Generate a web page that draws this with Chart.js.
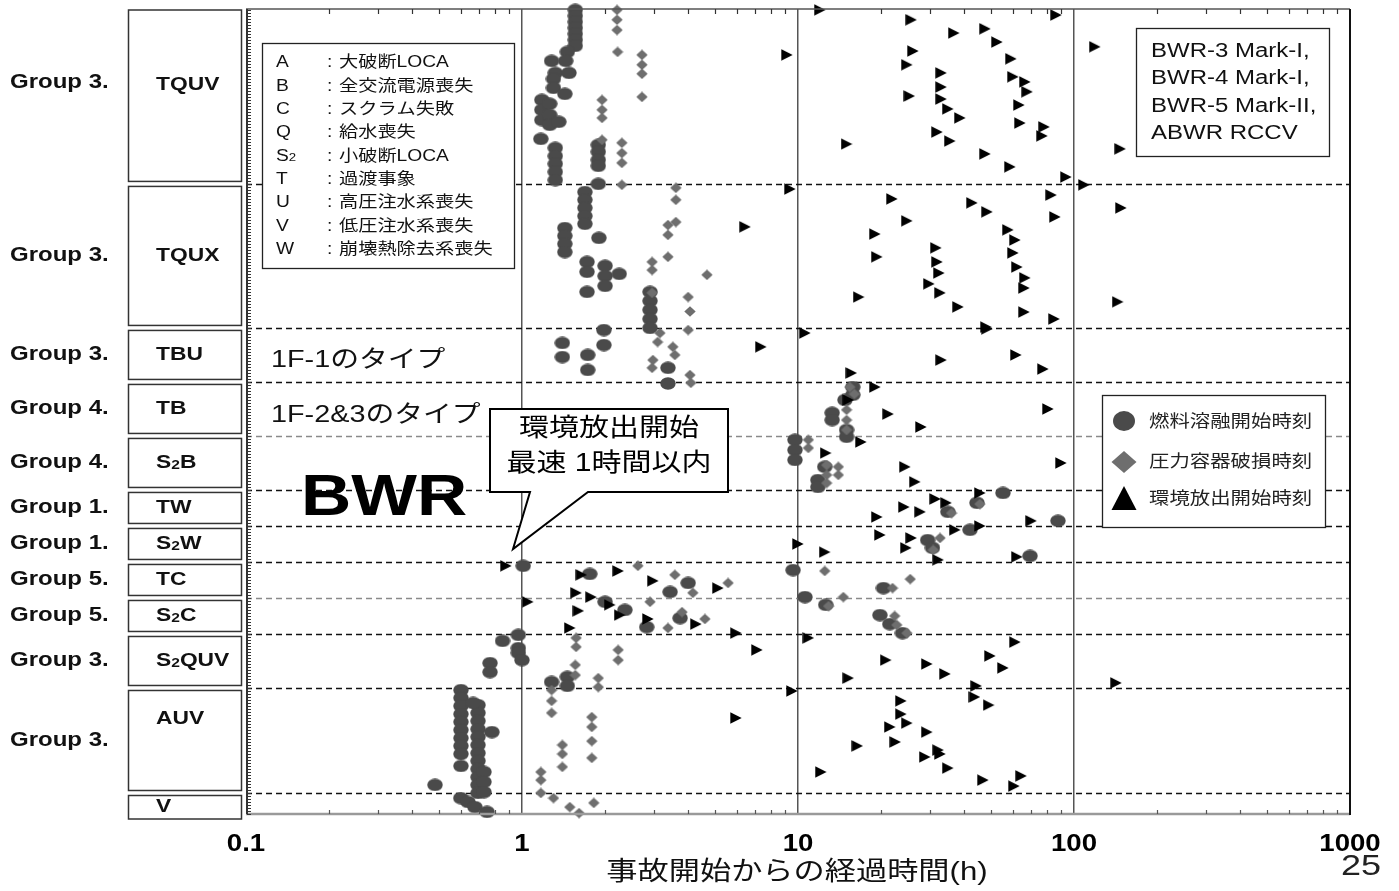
<!DOCTYPE html>
<html lang="ja">
<head>
<meta charset="UTF-8">
<title>BWR 事故進展時間</title>
<script src="https://cdn.jsdelivr.net/npm/chart.js"></script>
<style>
  body { margin: 0; background: #fff; }
  canvas { display: block; }
</style>
</head>
<body>
<canvas id="chart" width="1399" height="891"></canvas>
<script>
// ---- data: [hours since accident start, case index (0 = bottom)] ----
const scenarioNames = ['TQUV', 'TQUX', 'TBU', 'TB', 'S2B', 'TW', 'S2W', 'TC', 'S2C', 'S2QUV', 'AUV', 'V'];
const groupNames = ['Group 3.', 'Group 3.', 'Group 3.', 'Group 4.', 'Group 4.', 'Group 1.', 'Group 1.',
                    'Group 5.', 'Group 5.', 'Group 3.', 'Group 3.', ''];
const scenarioBounds = [268.3, 210, 162, 144, 126, 108, 96, 84, 72, 60, 42, 7, -2.5];
const xTicks = [0.1, 1, 10, 100, 1000];
const xTickLabels = ['0.1', '1', '10', '100', '1000'];

const meltPoints = [
  // TQUV
  [1.56,268],[1.56,266],[1.56,264],[1.56,262],[1.56,260],[1.56,258],[1.56,256],[1.46,254],
  [1.28,251],[1.44,251],[1.32,247],[1.48,247],[1.30,245],[1.30,242],[1.43,240],
  [1.18,238],[1.18,234.7],[1.18,231.3],[1.26,236.7],[1.26,233],[1.26,229.7],[1.36,230.7],[1.17,225],
  [1.32,222],[1.32,219.3],[1.32,216.7],[1.32,214],[1.32,211.3],
  [1.89,223],[1.89,220.7],[1.89,218],[1.89,216],[1.89,210],
  // TQUX
  [1.69,207.3],[1.69,204.7],[1.69,202],[1.69,199.3],[1.69,196.7],
  [1.43,195.3],[1.43,192.7],[1.43,190],[1.43,187.3],[1.90,192],
  [1.72,184],[1.72,180.7],[2.0,182.7],[2.0,179.3],[2.0,176],[2.25,180],[1.72,174],
  [2.91,174],[2.91,171],[2.91,168],[2.91,165],[2.91,162],
  // TBU
  [1.40,157],[1.40,152.3],[1.73,153],[1.73,148],[1.98,161.3],[1.98,156.3],[3.38,148.7],[3.38,143.5],
  // TB, S2B
  [15.8,142.3],[15.8,139.7],[14.8,138],[13.3,133.7],[13.3,131.3],[15.0,128],[15.0,125.7],
  [9.75,124.7],[9.75,121.3],[9.75,118],[12.5,115.7],[11.8,111.3],[11.8,109],
  // TW, S2W
  [55.3,107],[44.5,103.7],[34.9,100.7],[87.5,97.7],[42.0,94.7],[29.5,91.3],[30.7,88.7],[69.3,86],
  // TC, S2C
  [1.01,82.7],[1.76,80],[2.0,70.7],[2.36,68],[3.44,74],[4.0,77],[3.74,65.3],[2.83,62.3],
  [9.6,81.3],[10.6,72.3],[12.6,69.7],[20.4,75.3],[19.8,66.3],[21.5,63.3],[23.9,60.3],
  // S2QUV
  [0.97,59.7],[0.85,57.7],[0.97,55.3],[0.97,53.7],[1.0,51.3],[0.766,50.3],[0.766,47.3],
  [1.28,44],[1.46,45.7],[1.46,42.7],
  // AUV, V
  [0.601,41.3],[0.601,38.7],[0.601,36],[0.601,33.3],[0.601,30.7],[0.601,28],[0.601,25.3],
  [0.601,22.7],[0.601,20],[0.601,16],
  [0.693,36.3],[0.693,33.7],[0.693,31],[0.693,28.3],[0.693,25.7],[0.693,23],[0.693,20.3],
  [0.693,17.7],[0.693,15],[0.693,12.3],[0.693,9.7],[0.693,7],
  [0.728,14],[0.728,10.7],[0.728,7.3],[0.665,37],[0.778,27.3],[0.484,9.7],
  [0.60,5.3],[0.637,4],[0.675,2.3],[0.747,0.7]
];

const vesselPoints = [
  // TQUV
  [2.21,268],[2.21,264.7],[2.21,261.3],[2.22,254],[2.72,253],[2.72,249.7],[2.72,246.7],[2.72,239],
  [1.95,238],[1.95,234.7],[1.95,232],[1.95,224.7],[2.30,223.7],[2.30,220.3],[2.30,217],[2.30,209.7],
  // TQUX
  [3.61,208.7],[3.61,204.7],[3.61,197.3],[3.38,196.3],[3.38,193],[3.38,185.7],[2.96,184],[2.96,181.3],
  [4.68,179.7],[4.0,172.3],[2.96,173.7],[4.06,167.5],
  // TBU
  [3.16,160.3],[3.10,157.3],[3.52,155.7],[3.58,153],[2.98,151.3],[2.96,148.7],[4.0,161.3],[4.06,146.3],[4.09,143.7],
  // TB, S2B
  [15.4,142.3],[16.0,140],[15.0,134.7],[15.0,131.3],[15.0,128],[10.9,124.7],[10.9,122],
  [12.7,116.3],[12.7,113],[12.7,110.3],[14.0,115.7],[14.0,113],
  // TW, S2W
  [32.7,92],[30.9,88],[45.6,103.3],[36.0,100.3],
  // TC, S2C
  [2.63,82.7],[3.58,79.7],[4.16,73.7],[5.58,77],[2.91,70.7],[3.80,67.3],[3.38,62],[4.60,65],
  [12.5,81],[25.5,78.3],[22.0,75.3],[14.6,72.3],[12.9,69.3],[22.4,66],[22.8,63],[24.8,60.3],
  // S2QUV
  [1.57,58.7],[1.57,55.7],[1.56,49.7],[1.56,46.3],[2.23,54.7],[2.23,51.3],[1.89,45.3],[1.89,42.3],
  // AUV, V
  [1.28,41.3],[1.28,37.7],[1.28,33.7],[1.79,32.3],[1.79,29],[1.79,24.3],[1.79,18.7],
  [1.40,23],[1.40,20],[1.40,15.7],[1.17,14],[1.17,11.3],[1.17,7],[1.30,5.3],[1.49,2.3],[1.61,0.3],[1.82,3.7]
];

const releasePoints = [
  // TQUV
  [12.0,268],[25.7,264.7],[36.7,260.3],[47.6,261.7],[52.6,257.3],[86.1,266.3],[9.12,253],[26.1,254.3],
  [24.8,249.7],[59.1,251.7],[33.0,247],[60.1,245.7],[66.4,244],[67.6,240.7],[33.0,242.3],[25.3,239.3],
  [33.0,238.3],[34.9,235],[38.6,232],[63.2,236.3],[63.7,230.3],[77.9,229],[76.6,226],[31.9,227.3],
  [35.5,224.3],[15.0,223.3],[47.6,220],[58.6,215.7],[93.5,212.3],[108.7,209.7],[119,255.7],[147,221.7],
  // TQUX
  [9.35,208.3],[21.9,205],[42.7,203.7],[48.4,200.7],[82.6,206.3],[85.3,199],[24.8,197.7],[19.0,193.3],
  [57.6,194.7],[61.1,191.3],[60.1,187],[31.6,188.7],[31.9,184],[32.4,180.3],[19.3,185.7],[62.1,182.3],
  [66.4,178.7],[65.9,175.3],[29.8,176.7],[32.7,173.7],[16.6,172.3],[38.0,169],[65.9,167.3],[84.7,165],
  [48.0,162.3],[148,202],[144,170.7],[6.43,195.7],
  // TBU
  [10.6,160.3],[7.34,155.7],[48.4,161.7],[33.0,151.3],[61.6,153],[77.2,148.3],[15.6,147],
  // TB
  [19.0,142.3],[15.2,138],[21.2,133.3],[27.9,129],[80.5,135],
  // S2B
  [16.9,124],[12.6,120.3],[24.4,115.7],[26.5,110.7],[89.7,117],
  // TW
  [31.4,105],[34.4,103.7],[45.6,107],[24.2,102.3],[27.7,100.7],[19.3,99],[69.9,97.7],[45.6,96],[37.0,94.7],
  // S2W
  [19.8,93],[25.7,92],[24.6,88.7],[10,90],[12.5,87.3],[32.2,84.7],[62.1,85.7],
  // TC, S2C
  [0.875,82.7],[1.05,70.7],[1.64,79.7],[2.23,81],[2.98,77.7],[1.57,73.7],[1.78,72.3],[2.08,69.7],
  [2.26,66.3],[1.60,67.7],[1.49,62],[2.86,65],[4.27,63.3],[5.13,75.3],
  // S2QUV
  [10.9,58.7],[7.10,54.7],[20.8,51.3],[29.3,50],[34.1,46.7],[15.2,45.3],[49.6,52.7],[55.3,48.7],
  [61.1,57.3],[44.2,42.7],[142,43.7],[5.96,60.3],
  // AUV
  [9.51,41],[43.6,39],[49.1,36.3],[23.6,37.7],[23.6,33.3],[24.8,30.3],[21.5,29],[29.3,27.3],[22.5,24],
  [16.4,22.7],[28.8,19],[32.2,21.3],[32.7,20],[34.9,15.3],[12.1,14],[46.8,11.3],[60.6,9.3],[64.3,12.7],[5.96,32]
];

const seriesLabels = ['燃料溶融開始時刻', '圧力容器破損時刻', '環境放出開始時刻'];
const abbrKeys = ['A', 'B', 'C', 'Q', 'S2', 'T', 'U', 'V', 'W'];
const abbrTexts = ['大破断LOCA', '全交流電源喪失', 'スクラム失敗', '給水喪失', '小破断LOCA',
                   '過渡事象', '高圧注水系喪失', '低圧注水系喪失', '崩壊熱除去系喪失'];
const plantTypes = ['BWR-3 Mark-I,', 'BWR-4 Mark-I,', 'BWR-5 Mark-II,', 'ABWR RCCV'];

// ---- style ----
const FONT = '"Liberation Sans", Arial, "Noto Sans CJK JP", sans-serif';
const SX = 1.2;            // the original slide is stretched horizontally
const MELT = '#4a4a4a';
const VESSEL = '#6e6e6e';
const RELEASE = '#000';

function marker(w, h, draw) {
  const c = document.createElement('canvas');
  c.width = w; c.height = h;
  draw(c.getContext('2d'), w, h);
  return c;
}
function ellipse(g, cx, cy, rx, ry, col) {
  g.fillStyle = col; g.beginPath(); g.ellipse(cx, cy, rx, ry, 0, 0, Math.PI * 2); g.fill();
}
function diamond(g, cx, cy, rx, ry, col) {
  g.fillStyle = col; g.beginPath();
  g.moveTo(cx, cy - ry); g.lineTo(cx + rx, cy); g.lineTo(cx, cy + ry); g.lineTo(cx - rx, cy);
  g.closePath(); g.fill();
}
const circleImg = marker(16, 13, (g, w, h) => ellipse(g, w / 2, h / 2, w / 2 - 0.3, h / 2 - 0.3, MELT));
const diamondImg = marker(12, 11, (g, w, h) => diamond(g, w / 2, h / 2, w / 2 - 0.3, h / 2 - 0.3, VESSEL));
const triangleImg = marker(12, 12, (g, w, h) => {
  g.fillStyle = RELEASE; g.beginPath();
  g.moveTo(0.3, 0.3); g.lineTo(w - 0.3, h / 2); g.lineTo(0.3, h - 0.3); g.closePath(); g.fill();
});

// text with horizontal stretch; "S2" gets a small 2 when sub is set
function drawText(ctx, s, x, y, size, o = {}) {
  const bold = o.bold ? 'bold ' : '';
  const big = bold + size + 'px ' + FONT;
  const small = bold + Math.round(size * 0.68) + 'px ' + FONT;
  const parts = o.sub ? s.split(/(?<=S)(2)/) : [s];
  ctx.save();
  ctx.fillStyle = o.color || '#000';
  ctx.textBaseline = o.base || 'middle';
  ctx.textAlign = 'left';
  const widths = parts.map((p, i) => { ctx.font = i % 2 ? small : big; return ctx.measureText(p).width; });
  const total = widths.reduce((a, b) => a + b, 0) * SX;
  let cx = o.align === 'center' ? x - total / 2 : o.align === 'right' ? x - total : x;
  parts.forEach((p, i) => {
    ctx.font = i % 2 ? small : big;
    ctx.save();
    ctx.translate(cx, y + (i % 2 ? size * 0.14 : 0));
    ctx.scale(SX, 1);
    ctx.fillText(p, 0, 0);
    ctx.restore();
    cx += widths[i] * SX;
  });
  ctx.restore();
}

function line(ctx, x1, y1, x2, y2, col, w) {
  ctx.strokeStyle = col; ctx.lineWidth = w;
  ctx.beginPath(); ctx.moveTo(x1, y1); ctx.lineTo(x2, y2); ctx.stroke();
}

const decor = {
  id: 'decor',
  beforeDatasetsDraw(chart) {
    const { ctx, chartArea: a, scales: { y } } = chart;
    ctx.save();
    ctx.setLineDash([6, 4]);
    scenarioBounds.slice(1, -1).forEach(b => {
      const py = Math.round(y.getPixelForValue(b)) + 0.5;
      const gray = (b === 126 || b === 72);
      line(ctx, a.left, py, a.right, py, gray ? '#8a8a8a' : '#111', 1.3);
    });
    ctx.restore();
  },
  afterDraw(chart) {
    const { ctx, chartArea: a, scales: { x, y } } = chart;
    ctx.save();

    // frame
    line(ctx, a.left, a.top, a.right, a.top, '#555', 1.5);
    line(ctx, a.left, a.bottom, a.right, a.bottom, '#9a9a9a', 2.5);
    line(ctx, a.left + 1, a.top, a.left + 1, a.bottom, '#333', 2);
    line(ctx, a.right, a.top, a.right, a.bottom + 1, '#111', 2);

    // minor ticks: left axis, one per case
    for (let v = 0; v <= 268; v++) {
      const py = Math.round(y.getPixelForValue(v)) + 0.5;
      line(ctx, a.left + 1, py, a.left + 5, py, '#333', 1);
    }
    // log minor ticks top and bottom
    for (let d = 0.1; d < 1000; d *= 10) {
      for (let k = 2; k <= 9; k++) {
        const px = Math.round(x.getPixelForValue(d * k)) + 0.5;
        line(ctx, px, a.top, px, a.top + 5, '#333', 1.2);
        line(ctx, px, a.bottom, px, a.bottom - 4, '#555', 1.2);
      }
    }

    // scenario boxes and group labels
    scenarioNames.forEach((name, i) => {
      const top = i === 0 ? a.top + 1 : y.getPixelForValue(scenarioBounds[i]) + 2.5;
      const bot = y.getPixelForValue(scenarioBounds[i + 1]) - 2.5;
      ctx.strokeStyle = '#333'; ctx.lineWidth = 1.5;
      ctx.strokeRect(128.5, top, 113, bot - top);
      const mid = (top + bot) / 2;
      const ly = name === 'AUV' ? top + 28 : (i === 0 ? mid - 11 : mid);
      drawText(ctx, name, 156, ly, 19, { bold: true, sub: true, color: '#111' });
      if (groupNames[i]) drawText(ctx, groupNames[i], 10, i === 0 ? mid - 13 : mid, 20, { bold: true, color: '#111' });
    });

    // x tick labels, title, page number
    xTicks.forEach((v, i) => {
      drawText(ctx, xTickLabels[i], x.getPixelForValue(v), 851, 23, { bold: true, align: 'center', base: 'alphabetic' });
    });
    drawText(ctx, '事故開始からの経過時間(h)', 797, 873, 26, { align: 'center', color: '#111' });
    drawText(ctx, '25', 1341, 875, 30, { base: 'alphabetic', color: '#222' });

    // abbreviation box
    ctx.fillStyle = '#fff'; ctx.fillRect(262, 43, 252, 225);
    ctx.strokeStyle = '#222'; ctx.lineWidth = 1.3; ctx.strokeRect(262.5, 43.5, 252, 225);
    abbrKeys.forEach((k, i) => {
      const ly = 63 + i * 23.3;
      drawText(ctx, k, 276, ly, 16, { sub: true, color: '#111' });
      drawText(ctx, ':', 327, ly, 16, { color: '#111' });
      drawText(ctx, abbrTexts[i], 339, ly, 16, { color: '#111' });
    });

    // plant type box
    ctx.fillStyle = '#fff'; ctx.fillRect(1136, 28, 193, 128);
    ctx.strokeRect(1136.5, 28.5, 193, 128);
    plantTypes.forEach((t, i) => drawText(ctx, t, 1151, 51 + i * 27.5, 20, { color: '#111' }));

    // annotations
    drawText(ctx, '1F-1のタイプ', 271, 360, 24, { color: '#111' });
    drawText(ctx, '1F-2&3のタイプ', 271, 415, 24, { color: '#111' });
    drawText(ctx, 'BWR', 301, 515, 58, { bold: true, base: 'alphabetic', color: '#000' });

    // callout
    ctx.beginPath();
    ctx.moveTo(490, 409); ctx.lineTo(728, 409); ctx.lineTo(728, 492); ctx.lineTo(588, 492);
    ctx.lineTo(513, 549); ctx.lineTo(530, 492); ctx.lineTo(490, 492); ctx.closePath();
    ctx.fillStyle = '#fff'; ctx.fill();
    ctx.strokeStyle = '#000'; ctx.lineWidth = 2; ctx.stroke();
    drawText(ctx, '環境放出開始', 609, 429, 25, { align: 'center' });
    drawText(ctx, '最速 1時間以内', 609, 464, 25, { align: 'center' });

    // legend
    ctx.fillStyle = '#fff'; ctx.fillRect(1102, 395, 223, 132);
    ctx.strokeStyle = '#222'; ctx.lineWidth = 1.3; ctx.strokeRect(1102.5, 395.5, 223, 132);
    ellipse(ctx, 1124, 421, 11, 10, MELT);
    diamond(ctx, 1124, 462, 12.5, 11, VESSEL);
    ctx.fillStyle = RELEASE; ctx.beginPath();
    ctx.moveTo(1124, 486); ctx.lineTo(1136.5, 510); ctx.lineTo(1111.5, 510); ctx.closePath(); ctx.fill();
    seriesLabels.forEach((t, i) => drawText(ctx, t, 1149, [422, 462, 499][i], 17, { color: '#222' }));

    ctx.restore();
  }
};

const toXY = arr => arr.map(([x, y]) => ({ x, y }));

new Chart(document.getElementById('chart'), {
  type: 'scatter',
  data: {
    datasets: [
      { label: seriesLabels[2], data: toXY(releasePoints), pointStyle: triangleImg, pointRadius: 7, order: 1, clip: false },
      { label: seriesLabels[1], data: toXY(vesselPoints), pointStyle: diamondImg, pointRadius: 6, order: 2, clip: false },
      { label: seriesLabels[0], data: toXY(meltPoints), pointStyle: circleImg, pointRadius: 8, order: 3, clip: false }
    ]
  },
  options: {
    responsive: false,
    animation: false,
    events: [],
    layout: { padding: { left: 246, right: 49, top: 9, bottom: 77 } },
    plugins: { legend: { display: false }, tooltip: { enabled: false } },
    scales: {
      x: {
        type: 'logarithmic',
        min: 0.1,
        max: 1000,
        afterBuildTicks: s => { s.ticks = xTicks.map(v => ({ value: v })); },
        ticks: { display: false },
        grid: {
          drawTicks: false,
          lineWidth: 1.5,
          color: c => (c.tick && c.tick.value > 0.1 && c.tick.value < 1000) ? '#555' : 'rgba(0,0,0,0)'
        },
        border: { display: false }
      },
      y: { type: 'linear', min: 0, max: 268.3, display: false }
    }
  },
  plugins: [decor]
});
</script>
</body>
</html>
